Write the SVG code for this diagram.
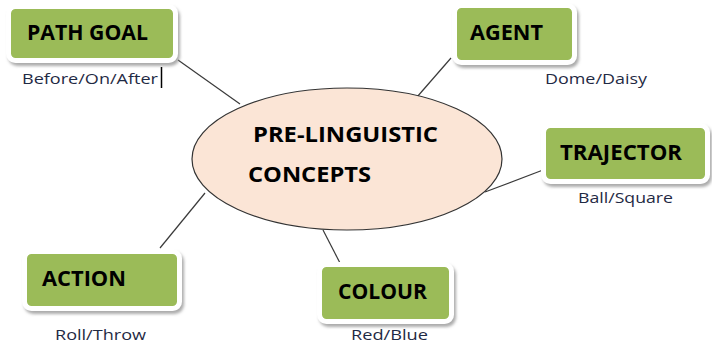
<svg xmlns="http://www.w3.org/2000/svg" width="712" height="344" viewBox="0 0 712 344">
<style>
.box{fill:#9BBB59;stroke:#ffffff;stroke-width:5;filter:url(#sh)}
.t{font-family:"Open Sans","Liberation Sans",sans-serif;font-weight:bold;font-size:22px;fill:#000}
.l{font-family:"Open Sans","Liberation Sans",sans-serif;font-size:14px;fill:#1F2A44}
.c{stroke:#3a3a3a;stroke-width:1.2;fill:none}
</style>
<defs>
<filter id="sh" x="-10%" y="-10%" width="125%" height="135%">
<feDropShadow dx="2" dy="3" stdDeviation="1.5" flood-color="#888" flood-opacity="0.7"/>
</filter>
</defs>
<rect width="712" height="344" fill="#fff"/>
<g id="connectors">
<line class="c" x1="178" y1="60" x2="240" y2="104"/>
<line class="c" x1="451" y1="58" x2="417" y2="97"/>
<line class="c" x1="543" y1="170" x2="485" y2="192"/>
<line class="c" x1="160" y1="248" x2="205" y2="193"/>
<line class="c" x1="323" y1="230" x2="340" y2="263"/>
</g>
<g id="center">
<ellipse cx="347" cy="159" rx="155" ry="71" fill="#FBE5D6" stroke="#333" stroke-width="1.2"/>
<text class="t" x="253" y="142" font-size="24" textLength="185" lengthAdjust="spacingAndGlyphs">PRE-LINGUISTIC</text>
<text class="t" x="248" y="182" font-size="24" textLength="123" lengthAdjust="spacingAndGlyphs">CONCEPTS</text>
</g>
<g id="path-goal">
<rect class="box" x="8.5" y="6.5" width="167" height="54" rx="7"/>
<text class="t" x="27" y="40" textLength="121" lengthAdjust="spacingAndGlyphs">PATH GOAL</text>
<text class="l" x="22" y="84" textLength="136" lengthAdjust="spacingAndGlyphs">Before/On/After</text>
<line x1="161.5" y1="67" x2="161.5" y2="88" stroke="#000" stroke-width="1.5"/>
</g>
<g id="agent">
<rect class="box" x="454.5" y="5.5" width="120" height="57" rx="7"/>
<text class="t" x="470" y="40" textLength="73" lengthAdjust="spacingAndGlyphs">AGENT</text>
<text class="l" x="545" y="84" textLength="102" lengthAdjust="spacingAndGlyphs">Dome/Daisy</text>
</g>
<g id="trajector">
<rect class="box" x="543.5" y="125.5" width="164" height="56" rx="7"/>
<text class="t" x="560" y="160" textLength="122" lengthAdjust="spacingAndGlyphs">TRAJECTOR</text>
<text class="l" x="578" y="203" textLength="95" lengthAdjust="spacingAndGlyphs">Ball/Square</text>
</g>
<g id="action">
<rect class="box" x="24.5" y="251.5" width="155" height="57" rx="7"/>
<text class="t" x="42" y="286" textLength="84" lengthAdjust="spacingAndGlyphs">ACTION</text>
<text class="l" x="55" y="340" textLength="91" lengthAdjust="spacingAndGlyphs">Roll/Throw</text>
</g>
<g id="colour">
<rect class="box" x="319.5" y="264.5" width="132" height="57" rx="7"/>
<text class="t" x="338" y="299" textLength="89" lengthAdjust="spacingAndGlyphs">COLOUR</text>
<text class="l" x="351" y="340" textLength="77" lengthAdjust="spacingAndGlyphs">Red/Blue</text>
</g>
</svg>
